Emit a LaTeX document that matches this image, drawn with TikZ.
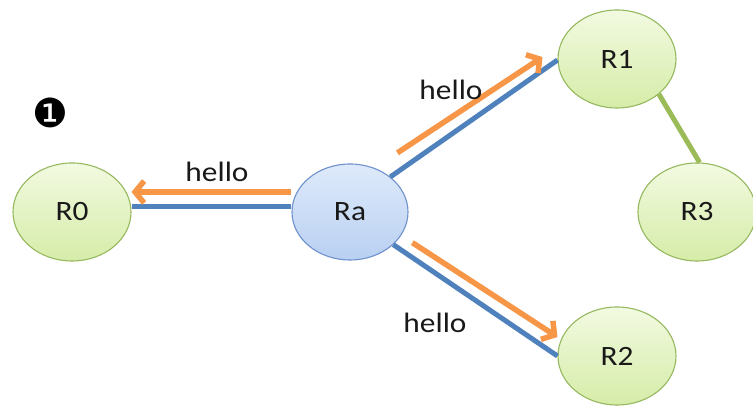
\documentclass[tikz,border=0pt]{standalone}
\usepackage{fontspec}
\setmainfont{Carlito}[FakeStretch=1.12]
\newfontfamily\dingfont{DejaVu Sans}
\usetikzlibrary{arrows.meta,shapes.geometric}
\definecolor{grnfillA}{RGB}{242,250,225}
\definecolor{grnfillB}{RGB}{214,236,168}
\definecolor{grnline}{RGB}{150,185,95}
\definecolor{blufillA}{RGB}{222,234,250}
\definecolor{blufillB}{RGB}{185,208,242}
\definecolor{bluline}{RGB}{110,145,205}
\definecolor{linkblue}{RGB}{79,129,189}
\definecolor{msgorange}{RGB}{247,150,70}
\definecolor{linkgreen}{RGB}{155,187,89}
\definecolor{txt}{RGB}{25,25,25}
\tikzset{
  router/.style={ellipse, draw=grnline, line width=1.1pt, top color=grnfillA, bottom color=grnfillB,
    minimum width=118pt, minimum height=98pt, inner sep=0pt, font=\fontsize{28}{30}\selectfont, text=txt},
  hub/.style={router, draw=bluline, top color=blufillA, bottom color=blufillB, minimum width=116pt, minimum height=96pt},
  link/.style={draw=linkblue, line width=5pt},
  glink/.style={draw=linkgreen, line width=5pt},
  msg/.style={draw=msgorange, line width=5.5pt, -{Straight Barb[length=9pt,width=22pt]}},
  lbl/.style={font=\fontsize{28}{30}\selectfont, text=txt, inner sep=0pt}
}
\begin{document}
\begin{tikzpicture}[x=1pt,y=1pt]
\useasboundingbox (0,0) rectangle (753,411);
\fill[white] (0,0) rectangle (753,411);
\node[router] (R0) at (72,199) {R0};
\node[hub] (Ra) at (350,199) {Ra};
\node[router] (R1) at (617,352) {R1};
\node[router] (R3) at (697,199) {R3};
\node[router] (R2) at (617,55) {R2};
\draw[link] ([yshift=5pt]Ra.west) -- ([yshift=5pt]R0.east);
\draw[link] (Ra.41) -- (R1.181);
\draw[link] (Ra.-37) -- (R2.180);
\draw[glink] (R1.-40) -- (R3.87);
\draw[msg] ([yshift=20pt]Ra.west) -- ([yshift=20pt]R0.east);
\draw[msg] ([shift={(7pt,24pt)}]Ra.41) -- ([shift={(-15pt,3pt)}]R1.181);
\draw[msg] ([shift={(19pt,2pt)}]Ra.-37) -- ([shift={(0pt,19pt)}]R2.180);
\node[lbl] (h0) at (217,239) {hello};
\node[lbl] (h1) at (451,321) {hello};
\node[lbl] (h2) at (435,88) {hello};
\node[font=\dingfont\fontsize{40}{42}\selectfont, inner sep=0pt] (num) at (50,298) {❶};
\end{tikzpicture}
\end{document}
